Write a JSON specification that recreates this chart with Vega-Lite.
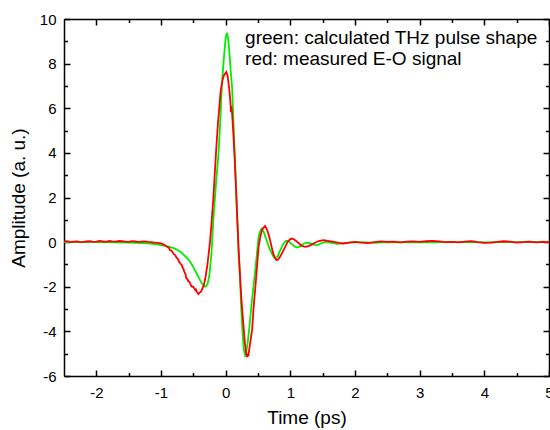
{
  "$schema": "https://vega.github.io/schema/vega-lite/v6.json",
  "width": 485,
  "height": 357,
  "autosize": {"type": "none"},
  "padding": {"left": 64, "top": 19, "right": 1, "bottom": 54},
  "background": "white",
  "config": {
    "view": {"stroke": null},
    "axis": {
      "grid": false,
      "domainColor": "black",
      "domainWidth": 1.5,
      "tickColor": "black",
      "tickWidth": 1.5,
      "labelFont": "Liberation Sans",
      "labelFontSize": 15,
      "labelColor": "black",
      "labelOverlap": false,
      "labelFlush": false,
      "titleFont": "Liberation Sans",
      "titleFontSize": 19,
      "titleFontWeight": "normal",
      "titleColor": "black"
    }
  },
  "datasets": {
    "green": [
      {"t": -2.5, "a": 0}, {"t": -2.0, "a": 0}, {"t": -1.5, "a": -0.02}, {"t": -1.3, "a": -0.04},
      {"t": -1.2, "a": -0.06}, {"t": -1.1, "a": -0.09}, {"t": -1.0, "a": -0.13}, {"t": -0.9, "a": -0.19},
      {"t": -0.8, "a": -0.27}, {"t": -0.7, "a": -0.43}, {"t": -0.6, "a": -0.7}, {"t": -0.55, "a": -0.88},
      {"t": -0.5, "a": -1.12}, {"t": -0.45, "a": -1.4}, {"t": -0.4, "a": -1.68}, {"t": -0.37, "a": -1.85},
      {"t": -0.34, "a": -1.97}, {"t": -0.31, "a": -2.0}, {"t": -0.28, "a": -1.88}, {"t": -0.25, "a": -1.45},
      {"t": -0.22, "a": -0.5}, {"t": -0.19, "a": 1.0}, {"t": -0.15, "a": 2.6}, {"t": -0.11, "a": 4.0},
      {"t": -0.08, "a": 5.6}, {"t": -0.06, "a": 6.96}, {"t": -0.04, "a": 7.8}, {"t": -0.02, "a": 8.5},
      {"t": 0.0, "a": 9.15}, {"t": 0.02, "a": 9.38}, {"t": 0.04, "a": 9.1}, {"t": 0.06, "a": 8.4},
      {"t": 0.08, "a": 7.6}, {"t": 0.1, "a": 6.9}, {"t": 0.12, "a": 5.4}, {"t": 0.14, "a": 4.0},
      {"t": 0.16, "a": 2.5}, {"t": 0.18, "a": 1.0}, {"t": 0.2, "a": -0.5}, {"t": 0.22, "a": -1.5},
      {"t": 0.24, "a": -2.9}, {"t": 0.26, "a": -4.0}, {"t": 0.28, "a": -4.8}, {"t": 0.3, "a": -5.07},
      {"t": 0.32, "a": -4.9}, {"t": 0.34, "a": -4.5}, {"t": 0.36, "a": -4.0}, {"t": 0.38, "a": -3.4},
      {"t": 0.4, "a": -2.8}, {"t": 0.43, "a": -2.0}, {"t": 0.46, "a": -1.2}, {"t": 0.49, "a": -0.3},
      {"t": 0.51, "a": 0.25}, {"t": 0.54, "a": 0.55}, {"t": 0.56, "a": 0.61}, {"t": 0.59, "a": 0.45},
      {"t": 0.62, "a": 0.2}, {"t": 0.65, "a": -0.05}, {"t": 0.68, "a": -0.3}, {"t": 0.72, "a": -0.55},
      {"t": 0.75, "a": -0.7}, {"t": 0.78, "a": -0.72}, {"t": 0.81, "a": -0.6}, {"t": 0.85, "a": -0.33},
      {"t": 0.89, "a": -0.08}, {"t": 0.93, "a": 0.05}, {"t": 0.97, "a": 0.05}, {"t": 1.02, "a": -0.08},
      {"t": 1.07, "a": -0.2}, {"t": 1.11, "a": -0.24}, {"t": 1.16, "a": -0.17}, {"t": 1.21, "a": -0.06},
      {"t": 1.26, "a": -0.02}, {"t": 1.31, "a": -0.06}, {"t": 1.37, "a": -0.12}, {"t": 1.42, "a": -0.13},
      {"t": 1.48, "a": -0.05}, {"t": 1.54, "a": 0.01}, {"t": 1.62, "a": -0.02}, {"t": 1.72, "a": -0.08},
      {"t": 1.82, "a": -0.06}, {"t": 1.93, "a": -0.02}, {"t": 2.1, "a": 0.0}, {"t": 2.3, "a": -0.03},
      {"t": 2.5, "a": 0}, {"t": 3.0, "a": -0.01}, {"t": 3.5, "a": 0}, {"t": 4.0, "a": -0.01},
      {"t": 4.5, "a": 0}, {"t": 5.0, "a": 0}
    ],
    "red": [
      {"t": -2.5, "a": 0.02}, {"t": -2.45, "a": 0.04}, {"t": -2.4, "a": 0.0}, {"t": -2.35, "a": 0.02}, {"t": -2.3, "a": 0.03}, {"t": -2.25, "a": 0.0}, {"t": -2.2, "a": 0.01},
      {"t": -2.15, "a": 0.03}, {"t": -2.1, "a": 0.04}, {"t": -2.05, "a": 0.01}, {"t": -2.0, "a": 0.02}, {"t": -1.95, "a": 0.05}, {"t": -1.9, "a": 0.03}, {"t": -1.85, "a": 0.01}, {"t": -1.8, "a": 0.05},
      {"t": -1.75, "a": 0.03}, {"t": -1.7, "a": 0.02}, {"t": -1.65, "a": 0.05}, {"t": -1.6, "a": 0.04}, {"t": -1.55, "a": 0.02}, {"t": -1.5, "a": 0.01}, {"t": -1.45, "a": 0.04}, {"t": -1.4, "a": 0.03},
      {"t": -1.35, "a": 0.01}, {"t": -1.3, "a": 0.02}, {"t": -1.25, "a": 0.03}, {"t": -1.2, "a": 0.01}, {"t": -1.15, "a": 0.0}, {"t": -1.1, "a": -0.02}, {"t": -1.05, "a": -0.03}, {"t": -1.0, "a": -0.06},
      {"t": -0.95, "a": -0.12}, {"t": -0.9, "a": -0.22}, {"t": -0.88, "a": -0.25}, {"t": -0.86, "a": -0.36}, {"t": -0.84, "a": -0.38}, {"t": -0.82, "a": -0.45},
      {"t": -0.8, "a": -0.55}, {"t": -0.78, "a": -0.58}, {"t": -0.76, "a": -0.7}, {"t": -0.74, "a": -0.75}, {"t": -0.72, "a": -0.88}, {"t": -0.7, "a": -0.96}, {"t": -0.68, "a": -1.02}, {"t": -0.67, "a": -1.1},
      {"t": -0.65, "a": -1.22}, {"t": -0.64, "a": -1.32}, {"t": -0.62, "a": -1.45}, {"t": -0.61, "a": -1.62}, {"t": -0.59, "a": -1.66}, {"t": -0.58, "a": -1.75}, {"t": -0.56, "a": -1.78}, {"t": -0.55, "a": -1.85},
      {"t": -0.53, "a": -1.97}, {"t": -0.52, "a": -2.0}, {"t": -0.5, "a": -2.0}, {"t": -0.49, "a": -2.05}, {"t": -0.47, "a": -2.15}, {"t": -0.46, "a": -2.12}, {"t": -0.45, "a": -2.2},
      {"t": -0.43, "a": -2.3}, {"t": -0.42, "a": -2.33}, {"t": -0.4, "a": -2.25}, {"t": -0.38, "a": -2.22}, {"t": -0.37, "a": -2.15}, {"t": -0.34, "a": -1.95},
      {"t": -0.32, "a": -1.7}, {"t": -0.3, "a": -1.35}, {"t": -0.28, "a": -0.96}, {"t": -0.26, "a": -0.45},
      {"t": -0.24, "a": 0.09}, {"t": -0.22, "a": 0.8}, {"t": -0.19, "a": 2.0}, {"t": -0.15, "a": 3.98},
      {"t": -0.12, "a": 5.3}, {"t": -0.08, "a": 6.7}, {"t": -0.05, "a": 7.25}, {"t": -0.03, "a": 7.45},
      {"t": -0.01, "a": 7.55}, {"t": 0.01, "a": 7.63}, {"t": 0.03, "a": 7.45}, {"t": 0.05, "a": 7.0},
      {"t": 0.07, "a": 6.4}, {"t": 0.08, "a": 5.95}, {"t": 0.09, "a": 6.0}, {"t": 0.1, "a": 5.75},
      {"t": 0.12, "a": 4.8}, {"t": 0.14, "a": 3.7}, {"t": 0.16, "a": 2.4}, {"t": 0.18, "a": 1.0},
      {"t": 0.2, "a": -0.3}, {"t": 0.22, "a": -1.4}, {"t": 0.24, "a": -2.4}, {"t": 0.26, "a": -3.2},
      {"t": 0.28, "a": -3.9}, {"t": 0.3, "a": -4.6}, {"t": 0.32, "a": -5.05}, {"t": 0.33, "a": -5.15},
      {"t": 0.34, "a": -5.0}, {"t": 0.35, "a": -5.12}, {"t": 0.37, "a": -4.7}, {"t": 0.39, "a": -4.3},
      {"t": 0.41, "a": -3.9}, {"t": 0.43, "a": -3.0}, {"t": 0.46, "a": -2.0}, {"t": 0.49, "a": -0.9},
      {"t": 0.51, "a": -0.2}, {"t": 0.54, "a": 0.3}, {"t": 0.57, "a": 0.6}, {"t": 0.61, "a": 0.72},
      {"t": 0.63, "a": 0.62}, {"t": 0.66, "a": 0.39}, {"t": 0.69, "a": 0.05}, {"t": 0.71, "a": -0.21},
      {"t": 0.74, "a": -0.55}, {"t": 0.77, "a": -0.76}, {"t": 0.79, "a": -0.81}, {"t": 0.81, "a": -0.78},
      {"t": 0.84, "a": -0.66}, {"t": 0.88, "a": -0.45}, {"t": 0.92, "a": -0.21}, {"t": 0.96, "a": 0.02},
      {"t": 1.0, "a": 0.14}, {"t": 1.02, "a": 0.16}, {"t": 1.06, "a": 0.12}, {"t": 1.1, "a": 0.03},
      {"t": 1.13, "a": -0.05}, {"t": 1.18, "a": -0.17}, {"t": 1.23, "a": -0.21}, {"t": 1.28, "a": -0.18},
      {"t": 1.33, "a": -0.11}, {"t": 1.38, "a": -0.03}, {"t": 1.44, "a": 0.05}, {"t": 1.51, "a": 0.09},
      {"t": 1.58, "a": 0.06}, {"t": 1.67, "a": 0.01}, {"t": 1.75, "a": -0.03}, {"t": 1.82, "a": -0.06},
      {"t": 1.9, "a": -0.02}, {"t": 2.0, "a": 0.01}, {"t": 2.1, "a": -0.02}, {"t": 2.2, "a": -0.04},
      {"t": 2.3, "a": 0.0}, {"t": 2.4, "a": 0.03}, {"t": 2.5, "a": 0.01}, {"t": 2.6, "a": 0.02},
      {"t": 2.7, "a": -0.01}, {"t": 2.8, "a": 0.02}, {"t": 2.9, "a": 0.03}, {"t": 3.0, "a": 0.01},
      {"t": 3.1, "a": 0.04}, {"t": 3.2, "a": 0.06}, {"t": 3.3, "a": 0.03}, {"t": 3.4, "a": 0.0},
      {"t": 3.5, "a": 0.01}, {"t": 3.6, "a": -0.01}, {"t": 3.7, "a": 0.02}, {"t": 3.8, "a": 0.04},
      {"t": 3.9, "a": 0.0}, {"t": 4.0, "a": -0.03}, {"t": 4.1, "a": -0.02}, {"t": 4.2, "a": 0.01},
      {"t": 4.3, "a": 0.04}, {"t": 4.4, "a": 0.02}, {"t": 4.5, "a": -0.02}, {"t": 4.6, "a": 0.0},
      {"t": 4.7, "a": 0.02}, {"t": 4.8, "a": -0.01}, {"t": 4.9, "a": 0.01}, {"t": 5.0, "a": 0.0}
    ],
    "notes": [
      {"t": 0.3, "a": 8.88, "label": "green: calculated THz pulse shape"},
      {"t": 0.3, "a": 7.94, "label": "red: measured E-O signal"}
    ]
  },
  "layer": [
    {
      "data": {"name": "green"},
      "mark": {"type": "line", "color": "#00ee00", "strokeWidth": 1.8, "clip": true},
      "encoding": {
        "x": {
          "field": "t", "type": "quantitative",
          "scale": {"domain": [-2.5, 5], "nice": false, "zero": false},
          "axis": {
            "orient": "bottom",
            "values": [-2, -1, 0, 1, 2, 3, 4, 5],
            "labelExpr": "'' + datum.value",
            "tickSize": -6,
            "labelPadding": 15,
            "title": "Time (ps)",
            "titleBaseline": "alphabetic",
            "titleY": 47
          }
        },
        "y": {
          "field": "a", "type": "quantitative",
          "scale": {"domain": [-6, 10], "nice": false, "zero": false},
          "axis": {
            "orient": "left",
            "values": [-6, -4, -2, 0, 2, 4, 6, 8, 10],
            "labelExpr": "'' + datum.value",
            "tickSize": -6,
            "labelPadding": 14,
            "title": "Amplitude (a. u.)",
            "titleBaseline": "alphabetic",
            "titleX": -40
          }
        }
      }
    },
    {
      "data": {"name": "red"},
      "transform": [{"filter": "datum.t <= 0.51"}],
      "mark": {"type": "line", "color": "#ff0000", "strokeWidth": 1.8, "clip": true},
      "encoding": {
        "x": {
          "field": "t", "type": "quantitative",
          "axis": {"orient": "top", "values": [-2, -1, 0, 1, 2, 3, 4, 5], "labels": false, "title": null, "tickSize": -6}
        },
        "y": {
          "field": "a", "type": "quantitative",
          "axis": {"orient": "right", "values": [-6, -4, -2, 0, 2, 4, 6, 8, 10], "labels": false, "title": null, "tickSize": -6}
        }
      }
    },
    {
      "data": {"name": "red"},
      "transform": [{"filter": "datum.t >= 0.51"}],
      "mark": {"type": "line", "color": "#ff0000", "strokeWidth": 1.8, "clip": true},
      "encoding": {
        "x": {
          "field": "t", "type": "quantitative",
          "axis": {"orient": "top", "values": [-1.5, -0.5, 0.5, 1.5, 2.5, 3.5, 4.5], "labels": false, "title": null, "domain": false, "tickSize": -3.5}
        },
        "y": {
          "field": "a", "type": "quantitative",
          "axis": {"orient": "right", "values": [-5, -3, -1, 1, 3, 5, 7, 9], "labels": false, "title": null, "domain": false, "tickSize": -3.5}
        }
      }
    },
    {
      "data": {"name": "notes"},
      "mark": {"type": "text", "align": "left", "baseline": "alphabetic", "font": "Liberation Sans", "fontSize": 19, "color": "black"},
      "encoding": {
        "x": {
          "field": "t", "type": "quantitative",
          "axis": {"orient": "bottom", "values": [-1.5, -0.5, 0.5, 1.5, 2.5, 3.5, 4.5], "labels": false, "title": null, "domain": false, "tickSize": -3.5}
        },
        "y": {
          "field": "a", "type": "quantitative",
          "axis": {"orient": "left", "values": [-5, -3, -1, 1, 3, 5, 7, 9], "labels": false, "title": null, "domain": false, "tickSize": -3.5}
        },
        "text": {"field": "label"}
      }
    }
  ],
  "resolve": {"axis": {"x": "independent", "y": "independent"}}
}
